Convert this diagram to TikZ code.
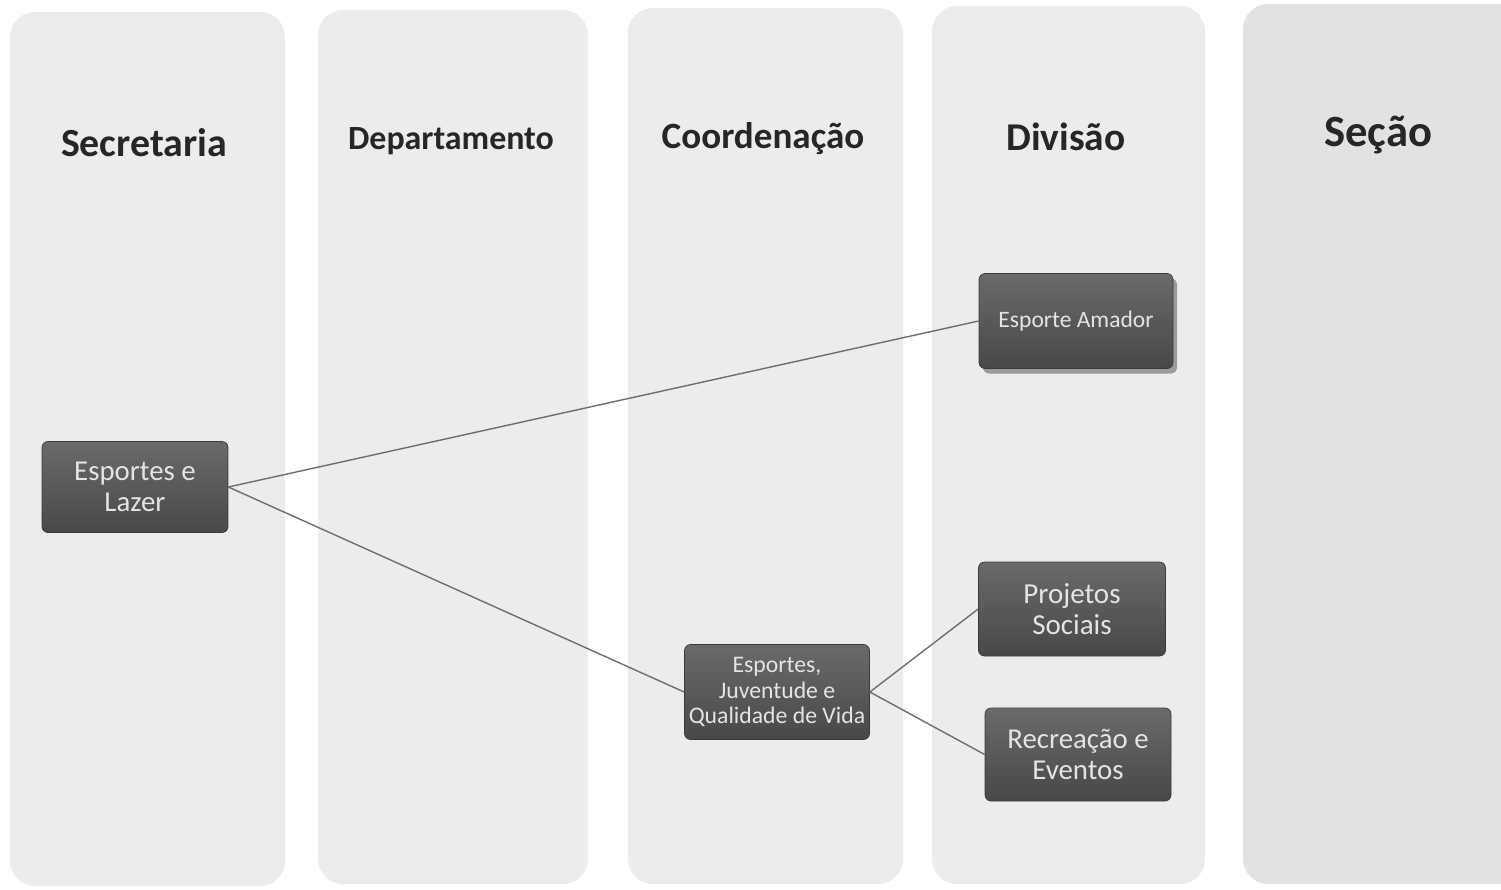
\documentclass[tikz,border=0pt]{standalone}
\usepackage{fontspec}
\setmainfont{Carlito}
\usetikzlibrary{shadows}
\definecolor{colfill}{HTML}{ECECEC}
\definecolor{colfillb}{HTML}{E2E2E2}
\definecolor{boxtop}{HTML}{6A6A6A}
\definecolor{boxbot}{HTML}{484848}
\definecolor{boxtext}{HTML}{E4E4E4}
\definecolor{linha}{HTML}{6E6E6E}
\tikzset{
  coluna/.style={fill=colfill,draw=none,rounded corners=0.5cm},
  titulo/.style={font=\fontsize{#1}{22}\selectfont\bfseries,text=black!85},
  caixa/.style={rectangle,rounded corners=0.12cm,top color=boxtop,bottom color=boxbot,
    draw=boxbot!80!black,text=boxtext,align=center,inner sep=2pt},
  ligacao/.style={draw=linha,line width=0.8pt}
}
\begin{document}
\begin{tikzpicture}
\useasboundingbox[fill=white] (0,0) rectangle (30.02cm,-17.78cm);
% colunas
\fill[coluna] (0.20cm,-0.24cm) rectangle (5.70cm,-17.72cm);
\fill[coluna] (6.36cm,-0.20cm) rectangle (11.76cm,-17.68cm);
\fill[coluna] (12.56cm,-0.16cm) rectangle (18.06cm,-17.68cm);
\fill[coluna] (18.64cm,-0.12cm) rectangle (24.10cm,-17.68cm);
\fill[coluna,fill=colfillb] (24.86cm,-0.08cm) rectangle (30.60cm,-17.68cm);
\node[titulo=22.7] (tsec) at (2.88cm,-2.86cm) {Secretaria};
\node[titulo=19.3] (tdep) at (9.02cm,-2.82cm) {Departamento};
\node[titulo=21.1] (tcoo) at (15.26cm,-2.78cm) {Coordenação};
\node[titulo=22.4] (tdiv) at (21.32cm,-2.74cm) {Divisão};
\node[titulo=25.4] (tsecao) at (27.56cm,-2.70cm) {Seção};
% caixas
\node[caixa,minimum width=3.72cm,minimum height=1.82cm,font=\fontsize{16.4}{18}\selectfont] (lazer) at (2.70cm,-9.74cm) {Esportes e\\Lazer};
\node[caixa,minimum width=3.88cm,minimum height=1.90cm,font=\fontsize{13.4}{15}\selectfont,
  drop shadow={shadow xshift=0.08cm,shadow yshift=-0.1cm,fill=black!70}] (amador) at (21.52cm,-6.42cm) {Esporte Amador};
\node[caixa,minimum width=3.70cm,minimum height=1.90cm,font=\fontsize{13.5}{14.5}\selectfont] (juventude) at (15.54cm,-13.84cm) {Esportes,\\Juventude e\\Qualidade de Vida};
\node[caixa,minimum width=3.74cm,minimum height=1.88cm,font=\fontsize{16.5}{18}\selectfont] (projetos) at (21.44cm,-12.18cm) {Projetos\\Sociais};
\node[caixa,minimum width=3.72cm,minimum height=1.86cm,font=\fontsize{16.4}{18}\selectfont] (recreacao) at (21.56cm,-15.09cm) {Recreação e\\Eventos};
% ligacoes
\draw[ligacao] (lazer.east) -- (amador.west);
\draw[ligacao] (lazer.east) -- (juventude.west);
\draw[ligacao] (juventude.east) -- (projetos.west);
\draw[ligacao] (juventude.east) -- (recreacao.west);
\end{tikzpicture}
\end{document}
